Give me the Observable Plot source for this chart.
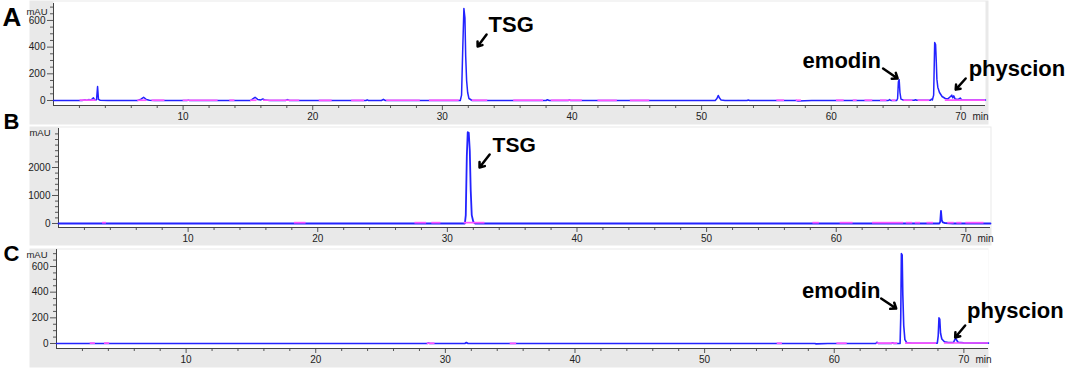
<!DOCTYPE html>
<html>
<head>
<meta charset="utf-8">
<script src="https://cdn.jsdelivr.net/npm/d3@7"></script>
<script src="https://cdn.jsdelivr.net/npm/@observablehq/plot@0.6"></script>
<style>
  html, body { margin: 0; padding: 0; background: #ffffff; }
  body { width: 1065px; height: 370px; position: relative; overflow: hidden; font-family: "Liberation Sans", Arial, sans-serif; }
  .panel { position: absolute; left: 0; }
</style>
</head>
<body>
<div id="pA" class="panel" style="top:0px"></div>
<div id="pB" class="panel" style="top:124px"></div>
<div id="pC" class="panel" style="top:246px"></div>
<script>
// ---------- data (retention time in min, absorbance in mAU) ----------
const xMajorTicks = [10, 20, 30, 40, 50, 60, 70];
const yMajorTicksA = [0, 200, 400, 600];
const yMajorTicksB = [0, 1000, 2000];
const yMajorTicksC = [0, 200, 400, 600];
const xUnit = "min";
const yUnit = "mAU";

// Panel A: blue channel
const blueA = [
  [0,0],[2.2,0],[2.45,5],[2.55,1],[2.75,7],[2.85,2],[3.0,12],[3.08,20],[3.18,4],[3.32,6],[3.4,105],[3.47,8],[3.6,2],[4.2,0],
  [6.5,0],[6.75,10],[6.95,24],[7.15,8],[7.4,2],[7.8,0],
  [10.3,0],[10.4,3],[10.5,0],
  [15.2,0],[15.4,14],[15.55,24],[15.75,8],[16.0,4],[16.15,12],[16.3,3],[16.7,0],
  [17.9,0],[18.05,7],[18.2,0],
  [24.1,0],[24.2,5],[24.3,0],
  [25.3,0],[25.45,9],[25.6,0],
  [31.38,0],[31.48,40],[31.57,380],[31.66,690],[31.74,620],[31.8,330],[31.87,150],[31.95,60],[32.05,15],[32.3,0],
  [38.0,0],[38.1,6],[38.25,0],
  [39.7,0],[39.8,4],[39.9,0],
  [51.05,0],[51.18,15],[51.28,38],[51.38,18],[51.5,4],[51.8,0],
  [53.5,0],[53.6,4],[53.7,0],
  [57.3,0],[57.4,-3],[58.5,0],
  [64.4,0],[64.5,7],[64.6,0],
  [65.05,0],[65.12,15],[65.18,140],[65.24,155],[65.3,60],[65.38,10],[65.6,2],
  [66.4,2],[66.5,6],[66.6,2],
  [67.65,2],[67.72,10],[67.8,4],[67.9,40],[67.98,435],[68.05,420],[68.1,300],[68.15,160],[68.22,100],[68.35,60],[68.55,30],[68.8,15],[69.0,12],
  [69.2,30],[69.3,40],[69.37,20],[69.45,35],[69.55,12],[69.8,8],[69.95,18],[70.05,6],[70.4,3],[71.9,3]
];
// Panel A: magenta channel, visible baseline stretches [start, end, level]
const magentaA = [
  [2.05,3.3,3],[6.5,7.2,2],[7.6,8.6,2],[10.0,12.7,2],[13.6,14.0,2],[15.2,15.7,2],[16.2,19.0,2],
  [20.5,21.5,1],[23.0,24.0,1],[25.7,28.3,2],[29.0,31.3,2],[32.3,33.5,2],[35.5,37.8,2],[38.4,40.8,2],
  [42.0,43.5,1],[44.5,46.0,1],[55.8,56.4,2],[57.3,57.7,2],[60.4,61.0,2],[61.7,62.0,2],[62.6,63.2,2],
  [63.8,64.3,2],[64.7,65.0,2],[65.6,66.3,2],[66.7,67.6,2],[68.8,71.9,3]
];

// Panel B: blue channel
const blueB = [
  [0,0],[31.35,0],[31.42,300],[31.5,2400],[31.57,3260],[31.65,3240],[31.73,2600],[31.8,1200],[31.88,300],[32.0,60],[32.15,0],
  [67.95,0],[68.02,60],[68.08,450],[68.14,120],[68.22,40],[68.4,15],[68.7,8],[69.0,0],[71.9,0]
];
const magentaB = [
  [3.4,3.7,30],[18.2,19.1,30],[27.5,28.4,30],[28.8,29.5,30],[31.3,32.9,30],[58.2,58.7,30],[60.3,61.3,30],
  [62.8,65.2,30],[65.4,65.9,30],[66.1,66.5,30],[67.0,67.5,30],[68.6,69.1,30],[69.3,69.7,30],[70.0,71.4,30]
];

// Panel C: blue channel
const blueC = [
  [0,0],[28.6,0],[28.7,4],[28.8,0],[31.5,0],[31.62,8],[31.75,0],
  [58.5,0],[58.6,-3],[59.5,0],
  [63.2,0],[63.3,10],[63.4,0],
  [64.4,0],[64.5,6],[64.6,0],
  [65.08,0],[65.13,200],[65.18,700],[65.24,690],[65.29,380],[65.36,140],[65.45,30],[65.6,5],[66.0,2],
  [67.95,3],[68.02,60],[68.08,200],[68.14,190],[68.2,80],[68.3,35],[68.5,14],[68.8,8],
  [69.2,8],[69.3,30],[69.38,38],[69.45,25],[69.55,10],[70.0,5],[71.9,3]
];
const magentaC = [
  [2.6,3.0,3],[3.7,4.1,3],[28.6,29.2,2],[35.0,35.5,1],[55.6,56.0,2],[60.2,61.0,2],[63.3,64.9,3],[65.5,67.9,3],[68.5,71.9,4]
];

// Annotations: [label, text t, text mAU, arrow t1, arrow mAU1, arrow t2, arrow mAU2]
const notesA = [
  ["TSG", 33.56, 517, 33.41, 495, 32.72, 405],
  ["emodin", 57.79, 247, 64.0, 240, 65.12, 165],
  ["physcion", 70.6, 187, 70.37, 165, 69.6, 82]
];
const notesB = [
  ["TSG", 33.49, 2536, 33.26, 2464, 32.48, 2000]
];
const notesC = [
  ["emodin", 57.52, 358, 63.62, 351, 64.78, 273],
  ["physcion", 70.25, 195, 70.1, 140, 69.33, 47]
];

// ---------- drawing ----------
const BLUE = "#2323ff";
const MAGENTA = "#ff55ff";
const GREY = "#e9e9e9";

function panel(o) {
  const xMinor = d3.range(2, 72, 2).filter(d => d % 10 !== 0);
  const yMinor = d3.range(o.yMinorStep, o.yDomain[1], o.yMinorStep).filter(d => !o.yMajor.includes(d));
  return Plot.plot({
    width: 1065,
    height: o.height,
    marginLeft: o.marginLeft,
    marginRight: o.marginRight,
    marginTop: o.marginTop,
    marginBottom: o.marginBottom,
    x: { domain: [0, 71.9], label: null },
    y: { domain: o.yDomain, label: null },
    style: { background: "transparent", color: "#222", fontFamily: "'Liberation Sans', Arial, sans-serif", overflow: "visible" },
    marks: [
      Plot.frame({ fill: GREY, stroke: null, insetLeft: o.grey[0], insetRight: o.grey[1], insetTop: o.grey[2], insetBottom: o.grey[3] }),
      Plot.frame({ fill: "white", stroke: null, insetTop: o.whiteTop }),
      Plot.axisX({ ticks: xMinor, tickSize: 3, tickFormat: () => "", label: null, stroke: "#555" }),
      Plot.axisX({ ticks: xMajorTicks, tickSize: 5, tickPadding: 2, tickFormat: d => String(d), label: null, fontSize: 10, stroke: "#555" }),
      Plot.axisY({ ticks: yMinor, tickSize: 3, tickFormat: () => "", label: null, stroke: "#555" }),
      Plot.axisY({ ticks: o.yMajor, tickSize: 6, tickPadding: 2, tickFormat: d => String(d), label: null, fontSize: 10, stroke: "#555" }),
      Plot.ruleX([0], { stroke: "#444" }),
      Plot.ruleY([o.yDomain[0]], { stroke: "#444" }),
      Plot.text([xUnit], { x: 70.9, frameAnchor: "bottom", dy: 7, textAnchor: "start", lineAnchor: "top", fontSize: 10, fill: "#222", text: d => d }),
      Plot.text([yUnit], { frameAnchor: "top-left", dx: o.unitDx, dy: o.unitDy, textAnchor: "end", lineAnchor: "middle", fontSize: 9.5, fill: "#222", text: d => d }),
      Plot.line(o.blue, { x: d => d[0], y: d => d[1], stroke: BLUE, strokeWidth: o.blueWidth }),
      Plot.ruleY(o.magenta, { x1: d => d[0], x2: d => d[1], y: d => d[2], stroke: MAGENTA, strokeWidth: 1.7 }),
      Plot.arrow(o.notes, { x1: d => d[3], y1: d => d[4], x2: d => d[5], y2: d => d[6], stroke: "black", strokeWidth: 2.5, headLength: 8, headAngle: 75 }),
      Plot.text(o.notes, { x: d => d[1], y: d => d[2], text: d => d[0], textAnchor: "start", lineAnchor: "bottom", fontSize: o.noteSize, fontWeight: "bold", fill: "black" }),
      Plot.text([o.letter], { frameAnchor: "top-left", dx: o.letterDx, dy: o.letterDy, textAnchor: "start", lineAnchor: "bottom", fontSize: o.letterSize, fontWeight: "bold", fill: "black", text: d => d })
    ]
  });
}

document.getElementById("pA").append(panel({
  height: 124, marginLeft: 53, marginRight: 80, marginTop: 3, marginBottom: 19,
  yDomain: [-37.5, 727], yMajor: yMajorTicksA, yMinorStep: 50,
  grey: [-24, -3, -3, -19], whiteTop: -2,
  blue: blueA, blueWidth: 1.5, magenta: magentaA, notes: notesA, noteSize: 22,
  letter: "A", letterSize: 26, letterDx: -51, letterDy: 22,
  unitDx: -6, unitDy: 8
}));
document.getElementById("pB").append(panel({
  height: 122, marginLeft: 58, marginRight: 75, marginTop: 4, marginBottom: 19,
  yDomain: [-143, 3393], yMajor: yMajorTicksB, yMinorStep: 200,
  grey: [-29, -1, -2, -18], whiteTop: -1,
  blue: blueB, blueWidth: 1.8, magenta: magentaB, notes: notesB, noteSize: 21,
  letter: "B", letterSize: 22, letterDx: -55, letterDy: 0,
  unitDx: -8, unitDy: 4
}));
document.getElementById("pC").append(panel({
  height: 122, marginLeft: 56, marginRight: 77, marginTop: 3, marginBottom: 20,
  yDomain: [-39, 732.5], yMajor: yMajorTicksC, yMinorStep: 50,
  grey: [-27, 0, -1, -19], whiteTop: 0,
  blue: blueC, blueWidth: 1.6, magenta: magentaC, notes: notesC, noteSize: 22,
  letter: "C", letterSize: 22, letterDx: -53, letterDy: 11,
  unitDx: -9, unitDy: 5
}));
</script>
</body>
</html>
